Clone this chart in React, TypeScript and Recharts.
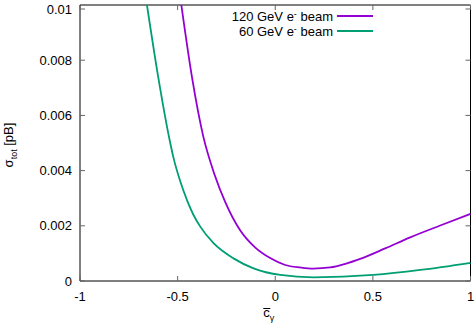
import { LineChart, Line, XAxis, YAxis, Legend, ReferenceArea } from 'recharts';

// 120 GeV e- beam (purple)
const cgamma120 = [-0.481, -0.425, -0.369, -0.312, -0.256, -0.179, -0.102, -0.026, 0.051, 0.128, 0.195, 0.282, 0.359, 0.435, 0.563, 0.691, 0.845, 1.0];
const sigma120 = [0.01, 0.00732, 0.00525, 0.00388, 0.00286, 0.00183, 0.00121, 0.00083, 0.00058, 0.00049, 0.00045, 0.00049, 0.00062, 0.0008, 0.00118, 0.00158, 0.00201, 0.00243];

// 60 GeV e- beam (green)
const cgamma60 = [-0.657, -0.601, -0.541, -0.521, -0.487, -0.452, -0.42, -0.384, -0.316, -0.214, -0.111, 0.026, 0.196, 0.503, 0.743, 1.0];
const sigma60 = [0.01, 0.00746, 0.00511, 0.00446, 0.00362, 0.00293, 0.00241, 0.00197, 0.00137, 0.00082, 0.00046, 0.00022, 0.000134, 0.00022, 0.0004, 0.00066];

const xTicks = [-1, -0.5, 0, 0.5, 1];
const yTicks = [0, 0.002, 0.004, 0.006, 0.008, 0.01];

const series = [
  { name: '120 GeV', color: '#9400d3', data: cgamma120.map((x, i) => ({ x, sigma: sigma120[i] })) },
  { name: '60 GeV', color: '#009e73', data: cgamma60.map((x, i) => ({ x, sigma: sigma60[i] })) },
];

const W = 475;
const H = 327;
const MARGIN = { top: 5, right: 4.5, bottom: 0, left: 0 };
const Y_W = 80;
const X_H = 46;
const PLOT_TOP = MARGIN.top;
const PLOT_BOTTOM = H - MARGIN.bottom - X_H;
const PLOT_LEFT = MARGIN.left + Y_W;
const PLOT_RIGHT = W - MARGIN.right;
const FONT = '"Liberation Sans", Arial, sans-serif';
const TICK_LEN = 5;
const TICK_COLOR = '#666';

const XTick = (props: any) => {
  const { x, payload } = props;
  return (
    <g>
      <line x1={x} x2={x} y1={PLOT_BOTTOM} y2={PLOT_BOTTOM - TICK_LEN} stroke={TICK_COLOR} />
      <line x1={x} x2={x} y1={PLOT_TOP} y2={PLOT_TOP + TICK_LEN} stroke={TICK_COLOR} />
      <text x={x} y={PLOT_BOTTOM + 20} textAnchor="middle" fontSize={13} fontFamily={FONT} fill="#000">
        {String(payload.value)}
      </text>
    </g>
  );
};

const YTick = (props: any) => {
  const { y, payload } = props;
  return (
    <g>
      <line x1={PLOT_LEFT} x2={PLOT_LEFT + TICK_LEN} y1={y} y2={y} stroke={TICK_COLOR} />
      <line x1={PLOT_RIGHT} x2={PLOT_RIGHT - TICK_LEN} y1={y} y2={y} stroke={TICK_COLOR} />
      <text x={PLOT_LEFT - 8} y={y + 4.5} textAnchor="end" fontSize={13} fontFamily={FONT} fill="#000">
        {String(payload.value)}
      </text>
    </g>
  );
};

const YLabel = () => (
  <text transform="rotate(-90, 13, 145)" x={13} y={145} textAnchor="middle" fontSize={13} fontFamily={FONT} fill="#000">
    σ<tspan fontSize={9} dy={4}>tot</tspan>
    <tspan dy={-4}>  [pB]</tspan>
  </text>
);

const XLabel = (props: any) => {
  const cx = props.viewBox.x + props.viewBox.width / 2;
  return (
    <g>
      <line x1={cx - 12} x2={cx - 5} y1={308.5} y2={308.5} stroke="#000" strokeWidth={1} />
      <text x={cx - 12} y={317} fontSize={13} fontFamily={FONT} fill="#000">
        c<tspan fontSize={9} dy={4}>γ</tspan>
      </text>
    </g>
  );
};

const LegendBox = () => (
  <div style={{ fontFamily: FONT, fontSize: 13, color: '#000' }}>
    {series.map((s) => (
      <div key={s.name} style={{ display: 'flex', justifyContent: 'flex-end', alignItems: 'center', height: 15 }}>
        <span style={{ whiteSpace: 'nowrap' }}>
          {s.name} e<span style={{ fontSize: 9, position: 'relative', top: -4 }}>-</span> beam
        </span>
        <span style={{ display: 'inline-block', width: 36, height: 2, background: s.color, marginLeft: 4 }} />
      </div>
    ))}
  </div>
);

export default function App() {
  return (
    <div style={{ position: 'absolute', left: 0, top: 0, background: '#fff' }}>
      <LineChart width={W} height={H} margin={MARGIN}>
        <XAxis
          dataKey="x"
          type="number"
          domain={[-1, 1]}
          ticks={xTicks}
          height={X_H}
          axisLine={false}
          tickLine={false}
          tickSize={0}
          tickMargin={0}
          tick={<XTick />}
          label={{ content: <XLabel /> }}
        />
        <YAxis
          type="number"
          domain={[0, 0.01]}
          ticks={yTicks}
          width={Y_W}
          allowDataOverflow
          axisLine={false}
          tickLine={false}
          tickSize={0}
          tickMargin={0}
          tick={<YTick />}
          label={{ content: <YLabel /> }}
        />
        <ReferenceArea x1={-1} x2={1} y1={0} y2={0.01} fill="none" stroke="#000" strokeWidth={1} ifOverflow="visible" />
        {series.map((s) => (
          <Line
            key={s.name}
            data={s.data}
            dataKey="sigma"
            name={s.name}
            type="monotone"
            stroke={s.color}
            strokeWidth={1.8}
            dot={false}
            activeDot={false}
            isAnimationActive={false}
          />
        ))}
        <Legend
          layout="vertical"
          align="center"
          verticalAlign="middle"
          content={<LegendBox />}
          wrapperStyle={{ left: 160, top: 8.5, width: 213 }}
        />
      </LineChart>
    </div>
  );
}
